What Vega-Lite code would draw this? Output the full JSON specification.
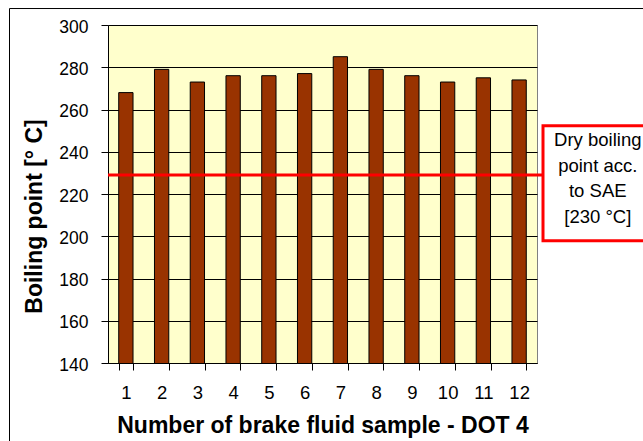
{
  "$schema": "https://vega.github.io/schema/vega-lite/v6.json",
  "width": 429,
  "height": 338,
  "autosize": {"type": "none"},
  "padding": {"left": 108, "top": 25, "right": 106, "bottom": 78},
  "background": "#FFFFFF",
  "config": {
    "font": "Liberation Sans",
    "view": {"fill": "#FFFFCC", "stroke": "#808080", "strokeWidth": 1}
  },
  "datasets": {
    "samples": [
      {"sample": "1", "bp": 268},
      {"sample": "2", "bp": 279},
      {"sample": "3", "bp": 273},
      {"sample": "4", "bp": 276},
      {"sample": "5", "bp": 276},
      {"sample": "6", "bp": 277},
      {"sample": "7", "bp": 285},
      {"sample": "8", "bp": 279},
      {"sample": "9", "bp": 276},
      {"sample": "10", "bp": 273},
      {"sample": "11", "bp": 275},
      {"sample": "12", "bp": 274}
    ],
    "note": [
      {"label": "Dry boiling\npoint acc.\nto SAE\n[230 °C]", "limit": 229}
    ]
  },
  "layer": [
    {
      "data": {"name": "samples"},
      "mark": {"type": "bar", "fill": "#993300", "stroke": "#000000", "strokeWidth": 1, "clip": true},
      "encoding": {
        "x": {
          "field": "sample",
          "type": "ordinal",
          "sort": null,
          "scale": {"paddingInner": 0.6, "paddingOuter": 0.3},
          "axis": {
            "title": "Number of brake fluid sample - DOT 4",
            "titleFont": "Liberation Sans",
            "titleFontSize": 23,
            "titleFontWeight": "bold",
            "titleColor": "#000000",
            "titleBaseline": "alphabetic",
            "titleY": 69,
            "labelAngle": 0,
            "labelFont": "Liberation Sans",
            "labelFontSize": 18.5,
            "labelColor": "#000000",
            "labelPadding": 13,
            "tickBand": "extent",
            "tickSize": 7,
            "tickColor": "#000000",
            "domainColor": "#000000",
            "grid": false
          }
        },
        "y": {
          "field": "bp",
          "type": "quantitative",
          "scale": {"domain": [140, 300], "nice": false, "zero": false},
          "axis": {
            "title": "Boiling point [° C]",
            "titleFont": "Liberation Sans",
            "titleFontSize": 23,
            "titleFontWeight": "bold",
            "titleColor": "#000000",
            "titleBaseline": "bottom",
            "titleX": -62,
            "titleY": 191,
            "values": [140, 160, 180, 200, 220, 240, 260, 280, 300],
            "labelFont": "Liberation Sans",
            "labelFontSize": 17.5,
            "labelColor": "#000000",
            "labelPadding": 13,
            "labelOffset": 2,
            "tickSize": 7,
            "tickColor": "#000000",
            "domainColor": "#000000",
            "grid": true,
            "gridColor": "#000000",
            "gridOpacity": 1,
            "gridWidth": 1
          }
        }
      }
    },
    {
      "data": {"name": "note"},
      "layer": [
        {
          "mark": {"type": "rule", "color": "#FF0000", "strokeWidth": 3},
          "encoding": {
            "x": {"datum": 0.5, "type": "quantitative", "scale": {"domain": [0.5, 12.5], "nice": false, "zero": false}, "axis": null},
            "x2": {"datum": 12.668},
            "y": {"field": "limit", "type": "quantitative"}
          }
        },
        {
          "mark": {"type": "rect", "fill": "#FFFFFF", "stroke": "#FF0000", "strokeWidth": 3},
          "encoding": {
            "x": {"datum": 12.668, "type": "quantitative", "scale": {"domain": [0.5, 12.5], "nice": false, "zero": false}, "axis": null},
            "x2": {"datum": 16.5},
            "y": {"datum": 252.3, "type": "quantitative"},
            "y2": {"datum": 197.9}
          }
        },
        {
          "mark": {"type": "text", "align": "center", "baseline": "alphabetic", "lineBreak": "\n", "lineHeight": 25.7, "font": "Liberation Sans", "fontSize": 18.5, "color": "#000000"},
          "encoding": {
            "x": {"datum": 14.2, "type": "quantitative", "scale": {"domain": [0.5, 12.5], "nice": false, "zero": false}, "axis": null},
            "y": {"datum": 242.7, "type": "quantitative"},
            "text": {"field": "label", "type": "nominal"}
          }
        },
        {
          "mark": {"type": "rect", "fill": null, "fillOpacity": 0, "stroke": "#000000", "strokeWidth": 1},
          "encoding": {
            "x": {"datum": -2.255, "type": "quantitative", "scale": {"domain": [0.5, 12.5], "nice": false, "zero": false}, "axis": null},
            "x2": {"datum": 17},
            "y": {"datum": 307.8, "type": "quantitative"},
            "y2": {"datum": 100}
          }
        }
      ]
    }
  ],
  "resolve": {"scale": {"x": "independent"}}
}
